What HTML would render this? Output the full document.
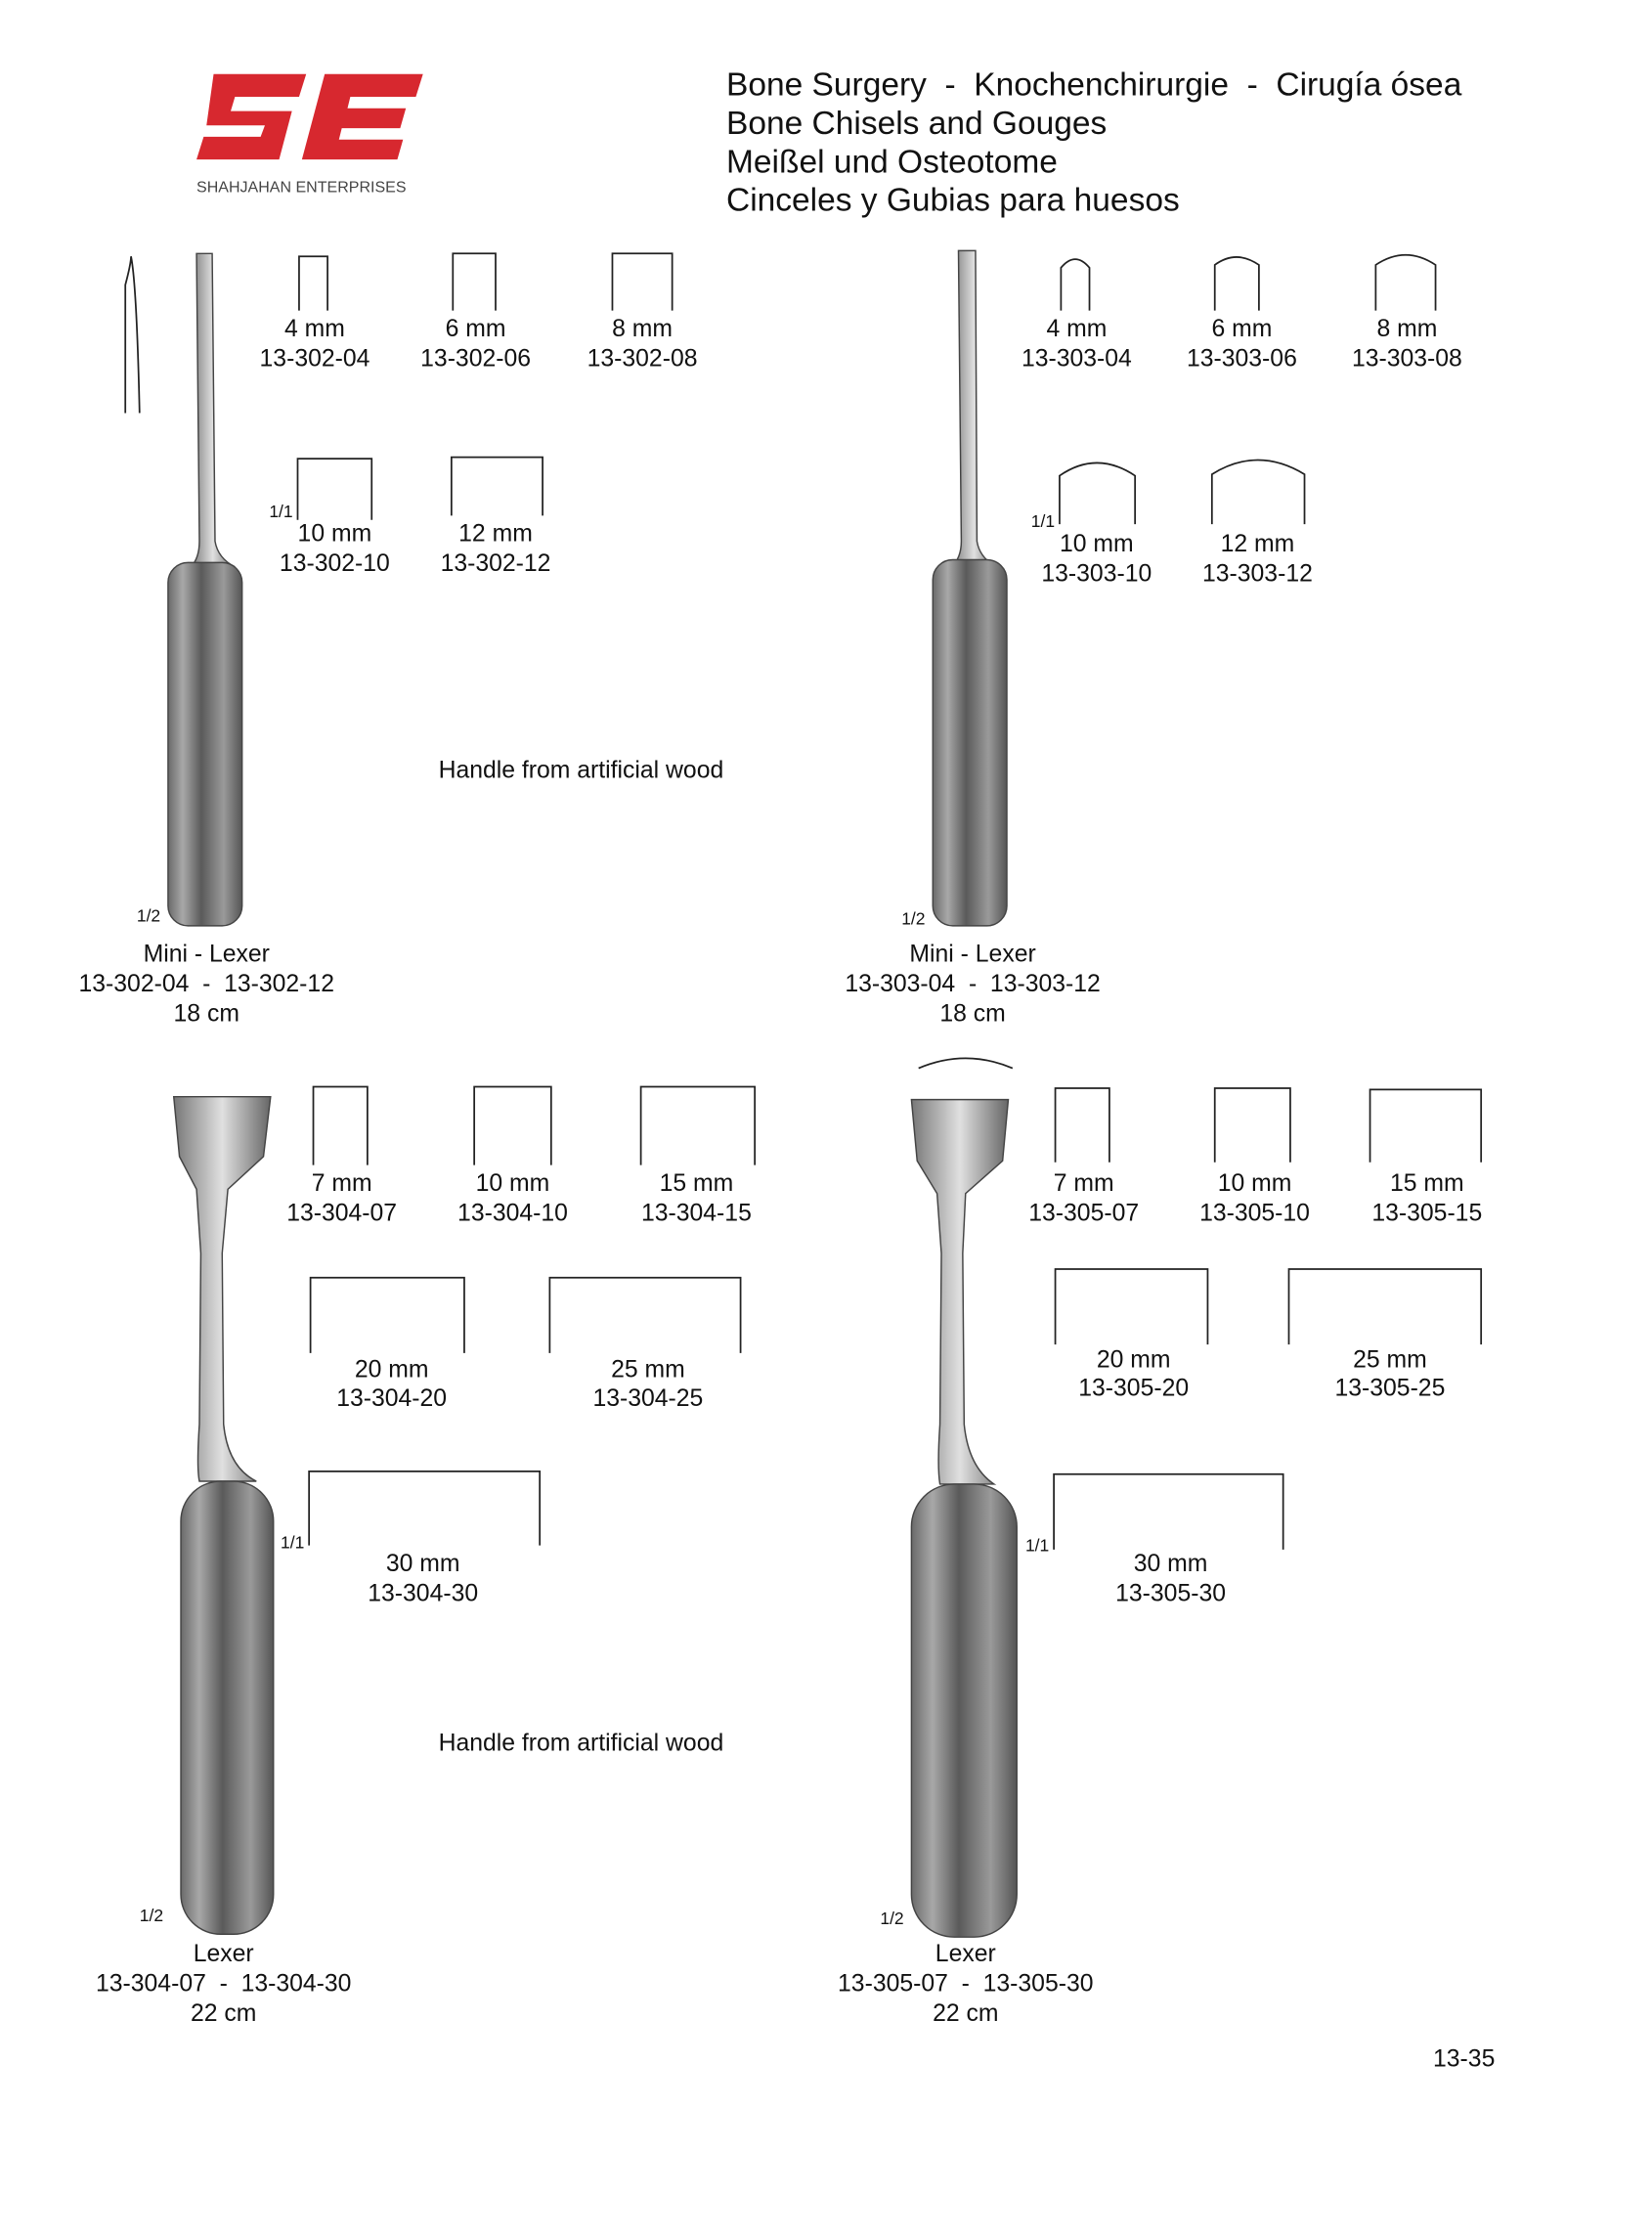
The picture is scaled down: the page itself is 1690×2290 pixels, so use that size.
<!DOCTYPE html>
<html><head><style>html,body{margin:0;padding:0;background:#fff}svg{display:block}text{white-space:pre}</style></head>
<body>
<svg width="1690" height="2290" viewBox="0 0 1160 1572" preserveAspectRatio="none" xmlns="http://www.w3.org/2000/svg" font-family="Liberation Sans, sans-serif" xml:space="preserve">
<defs>
<linearGradient id="h" x1="0" x2="1" y1="0" y2="0">
<stop offset="0" stop-color="#6a6a6a"/><stop offset="0.2" stop-color="#a8a8a8"/><stop offset="0.45" stop-color="#5a5a5a"/><stop offset="0.75" stop-color="#9a9a9a"/><stop offset="1" stop-color="#555"/></linearGradient>
<linearGradient id="s" x1="0" x2="1" y1="0" y2="0">
<stop offset="0" stop-color="#777"/><stop offset="0.5" stop-color="#e0e0e0"/><stop offset="1" stop-color="#666"/></linearGradient>
</defs>
<rect width="1160" height="1572" fill="#fff"/>
<g fill="#d7282f">
<path d="M150 52 H215 L210 68 H165 L162 78 H205 L196 112 H138 L143 96 H183 L186 88 H145 Z"/>
<path d="M228 52 H297 L292 68 H246 L244 76 H285 L281 90 H240 L238 98 H283 L279 112 H212 Z"/>
</g>
<text x="138" y="135" font-size="11" fill="#444">SHAHJAHAN ENTERPRISES</text>
<g font-size="23" fill="#111">
<text x="510" y="67">Bone Surgery  -  Knochenchirurgie  -  Cirugía ósea</text>
<text x="510" y="94">Bone Chisels and Gouges</text>
<text x="510" y="121">Meißel und Osteotome</text>
<text x="510" y="148">Cinceles y Gubias para huesos</text>
</g>
<g fill="none" stroke="#222" stroke-width="1.2">
<path d="M210 218 V180 H230 V218"/><path d="M318 218 V178 H348 V218"/><path d="M430 218 V178 H472 V218"/>
<path d="M209 365 V322 H261 V365"/><path d="M317 362 V321 H381 V362"/>
<path d="M88 290 V200 Q92 185 92 180 Q96 200 98 290"/>
<path d="M745 218 V188 Q755 176 765 188 V218"/><path d="M853 218 V186 Q868 175 884 186 V218"/><path d="M966 218 V186 Q987 172 1008 186 V218"/>
<path d="M744 368 V334 Q770 316 797 334 V368"/><path d="M851 368 V333 Q883 313 916 333 V368"/>
<path d="M220 818 V763 H258 V818"/><path d="M333 818 V763 H387 V818"/><path d="M450 818 V763 H530 V818"/>
<path d="M218 950 V897 H326 V950"/><path d="M386 950 V897 H520 V950"/>
<path d="M217 1085 V1033 H379 V1085"/>
<path d="M741 816 V764 H779 V816"/><path d="M853 816 V764 H906 V816"/><path d="M962 816 V765 H1040 V816"/>
<path d="M741 944 V891 H848 V944"/><path d="M905 944 V891 H1040 V944"/>
<path d="M740 1088 V1035 H901 V1088"/>
<path d="M645 750 Q678 736 711 750"/>
</g>
<g stroke="#444" stroke-width="1">
<path d="M138 178 H149 L151 380 Q153 392 165 398 L134 398 Q140 392 140 380 Z" fill="url(#s)"/>
<rect x="118" y="395" width="52" height="255" rx="14" fill="url(#h)"/>
<path d="M673 176 H685 L686 380 Q688 392 700 398 L668 398 Q675 392 675 380 Z" fill="url(#s)"/>
<rect x="655" y="393" width="52" height="257" rx="14" fill="url(#h)"/>
<path d="M122 770 H190 L185 812 L160 835 L156 880 L157 1000 Q160 1030 180 1040 H140 Q138 1030 140 1000 L141 880 L138 835 L126 812 Z" fill="url(#s)"/>
<rect x="127" y="1040" width="65" height="318" rx="28" fill="url(#h)"/>
<path d="M640 772 H708 L704 815 L678 838 L676 880 L677 1000 Q680 1030 698 1042 H660 Q658 1030 660 1000 L661 880 L658 838 L644 815 Z" fill="url(#s)"/>
<rect x="640" y="1042" width="74" height="318" rx="30" fill="url(#h)"/>
</g>
<g font-size="17" fill="#111" text-anchor="middle">
<text x="221" y="236">4 mm</text><text x="221" y="257">13-302-04</text>
<text x="334" y="236">6 mm</text><text x="334" y="257">13-302-06</text>
<text x="451" y="236">8 mm</text><text x="451" y="257">13-302-08</text>
<text x="235" y="380">10 mm</text><text x="235" y="401">13-302-10</text>
<text x="348" y="380">12 mm</text><text x="348" y="401">13-302-12</text>
<text x="756" y="236">4 mm</text><text x="756" y="257">13-303-04</text>
<text x="872" y="236">6 mm</text><text x="872" y="257">13-303-06</text>
<text x="988" y="236">8 mm</text><text x="988" y="257">13-303-08</text>
<text x="770" y="387">10 mm</text><text x="770" y="408">13-303-10</text>
<text x="883" y="387">12 mm</text><text x="883" y="408">13-303-12</text>
<text x="408" y="546">Handle from artificial wood</text>
<text x="145" y="675">Mini - Lexer</text><text x="145" y="696">13-302-04  -  13-302-12</text><text x="145" y="717">18 cm</text>
<text x="683" y="675">Mini - Lexer</text><text x="683" y="696">13-303-04  -  13-303-12</text><text x="683" y="717">18 cm</text>
<text x="240" y="836">7 mm</text><text x="240" y="857">13-304-07</text>
<text x="360" y="836">10 mm</text><text x="360" y="857">13-304-10</text>
<text x="489" y="836">15 mm</text><text x="489" y="857">13-304-15</text>
<text x="275" y="967">20 mm</text><text x="275" y="987">13-304-20</text>
<text x="455" y="967">25 mm</text><text x="455" y="987">13-304-25</text>
<text x="297" y="1103">30 mm</text><text x="297" y="1124">13-304-30</text>
<text x="761" y="836">7 mm</text><text x="761" y="857">13-305-07</text>
<text x="881" y="836">10 mm</text><text x="881" y="857">13-305-10</text>
<text x="1002" y="836">15 mm</text><text x="1002" y="857">13-305-15</text>
<text x="796" y="960">20 mm</text><text x="796" y="980">13-305-20</text>
<text x="976" y="960">25 mm</text><text x="976" y="980">13-305-25</text>
<text x="822" y="1103">30 mm</text><text x="822" y="1124">13-305-30</text>
<text x="408" y="1229">Handle from artificial wood</text>
<text x="157" y="1377">Lexer</text><text x="157" y="1398">13-304-07  -  13-304-30</text><text x="157" y="1419">22 cm</text>
<text x="678" y="1377">Lexer</text><text x="678" y="1398">13-305-07  -  13-305-30</text><text x="678" y="1419">22 cm</text>
<text x="1028" y="1451">13-35</text>
</g>
<g font-size="12" fill="#111">
<text x="189" y="363">1/1</text><text x="724" y="370">1/1</text>
<text x="96" y="647">1/2</text><text x="633" y="649">1/2</text>
<text x="197" y="1087">1/1</text><text x="720" y="1089">1/1</text>
<text x="98" y="1349">1/2</text><text x="618" y="1351">1/2</text>
</g>
</svg>
</body></html>
